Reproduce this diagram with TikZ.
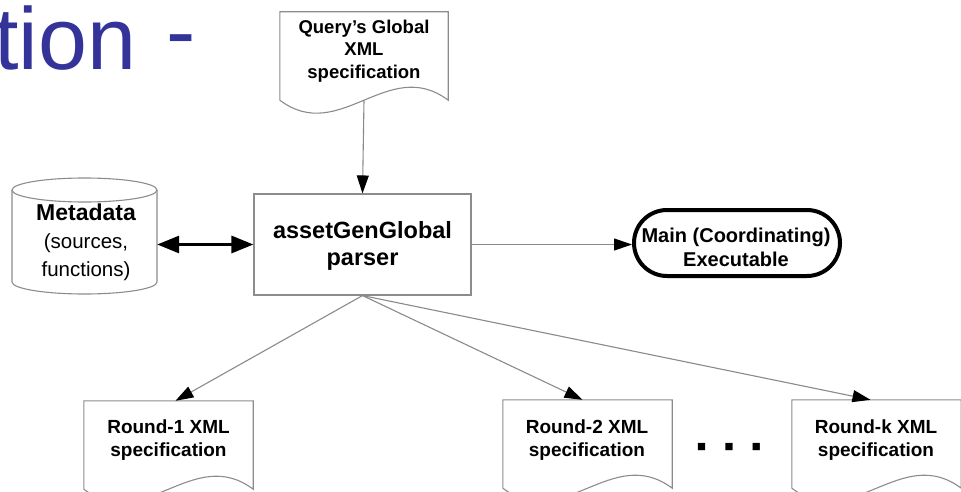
\documentclass[tikz,border=0pt]{standalone}
\usepackage{fontspec}
\setmainfont{Liberation Sans}
\newfontfamily\dejavu{DejaVu Sans}
\usetikzlibrary{arrows.meta}
\definecolor{titleblue}{HTML}{333399}
\definecolor{boxgray}{HTML}{8C8C8C}
\definecolor{linegray}{HTML}{8A8A8A}
\newcommand\docoutline[1]{(#1.south west) -- (#1.north west) -- (#1.north east) -- (#1.south east) .. controls +(-60,-45) and +(60,45) .. (#1.south west)}
\begin{document}
\begin{tikzpicture}[x=1pt,y=-1pt,
  boxline/.style={draw=boxgray, line width=1.1pt, fill=white},
  shapebox/.style={inner sep=0pt, draw=none},
  doctext/.style={inner sep=0pt, align=center, font=\bfseries\fontsize{19}{23.5}\selectfont},
  thinarrow/.style={draw=linegray, line width=1.1pt, -{Triangle[length=18pt,width=12pt,color=black]}},
  bigarrow/.style={line width=3pt, {Triangle[length=22pt,width=17pt]}-{Triangle[length=22pt,width=17pt]}}
]
\useasboundingbox (0,0) rectangle (961,492);

% title fragment
\node[anchor=base west, inner sep=0pt, text=titleblue, font=\fontsize{88}{88}\selectfont] (title) at (-6,70) {tion};
\node[anchor=base west, inner sep=0pt, text=titleblue, font=\fontsize{88}{88}\selectfont] (dash) at (166,62) {-};

% query doc
\node[shapebox, minimum width=168, minimum height=88] (q) at (364,56) {};
\draw[boxline] \docoutline{q};
\node[doctext, font=\bfseries\fontsize{18.5}{22.5}\selectfont] (qt) at (364,51) {Query’s Global\\XML\\specification};

% parser
\node[boxline, inner sep=0pt, minimum width=217, minimum height=101] (p) at (362.5,244.5) {};
\node[inner sep=0pt, align=center, font=\bfseries\fontsize{23.5}{27}\selectfont] (pt) at (362.5,246) {assetGenGlobal\\parser};

% metadata cylinder
\node[shapebox, minimum width=145, minimum height=100] (cyl) at (84.5,242) {};
\draw[boxline] (12,190) -- (12,282) arc[start angle=180, end angle=360, x radius=72.5pt, y radius=12pt]
  -- (157,190) arc[start angle=0, end angle=180, x radius=72.5pt, y radius=12pt] -- cycle;
\draw[draw=boxgray, line width=1.1pt] (12,190) arc[start angle=180, end angle=360, x radius=72.5pt, y radius=12pt];
\node[inner sep=0pt, align=center, font=\fontsize{20.5}{28}\selectfont] (mt) at (86,242) {{\bfseries\fontsize{23}{28}\selectfont Metadata}\\(sources,\\functions)};

% main executable
\node[draw=black, line width=4pt, rounded corners=33pt, fill=white, inner sep=0pt,
  minimum width=206, minimum height=66] (main) at (737,243) {};
\node[inner sep=0pt, align=center, font=\bfseries\fontsize{20}{24}\selectfont] (mainlbl) at (736,247) {Main (Coordinating)\\Executable};

% round docs
\node[shapebox, minimum width=169, minimum height=88] (r1) at (168.5,445) {};
\draw[boxline] \docoutline{r1};
\node[doctext] (r1t) at (168.5,440) {Round-1 XML\\specification};

\node[shapebox, minimum width=169, minimum height=88] (r2) at (587.5,444) {};
\draw[boxline] \docoutline{r2};
\node[doctext] (r2t) at (587,440) {Round-2 XML\\specification};

\node[shapebox, minimum width=169, minimum height=88] (rk) at (876.5,444) {};
\draw[boxline] \docoutline{rk};
\node[doctext] (rkt) at (876,440) {Round-k XML\\specification};

\node[inner sep=0pt, font=\dejavu\fontsize{9.5}{10}\selectfont] (dots) at (729,447) {■\hspace{18.5pt}■\hspace{18.5pt}■};

% connectors
\draw[thinarrow] (q.south) -- (p.north);
\draw[bigarrow] (cyl.east |- p.west) -- (p.west);
\draw[thinarrow] (p.east) -- (p.east -| main.west);
\draw[thinarrow] (p.south) -- ([xshift=7pt]r1.north);
\draw[thinarrow] (p.south) -- ([xshift=-5pt]r2.north);
\draw[thinarrow] (p.south) -- ([xshift=-6pt]rk.north);
\end{tikzpicture}
\end{document}
